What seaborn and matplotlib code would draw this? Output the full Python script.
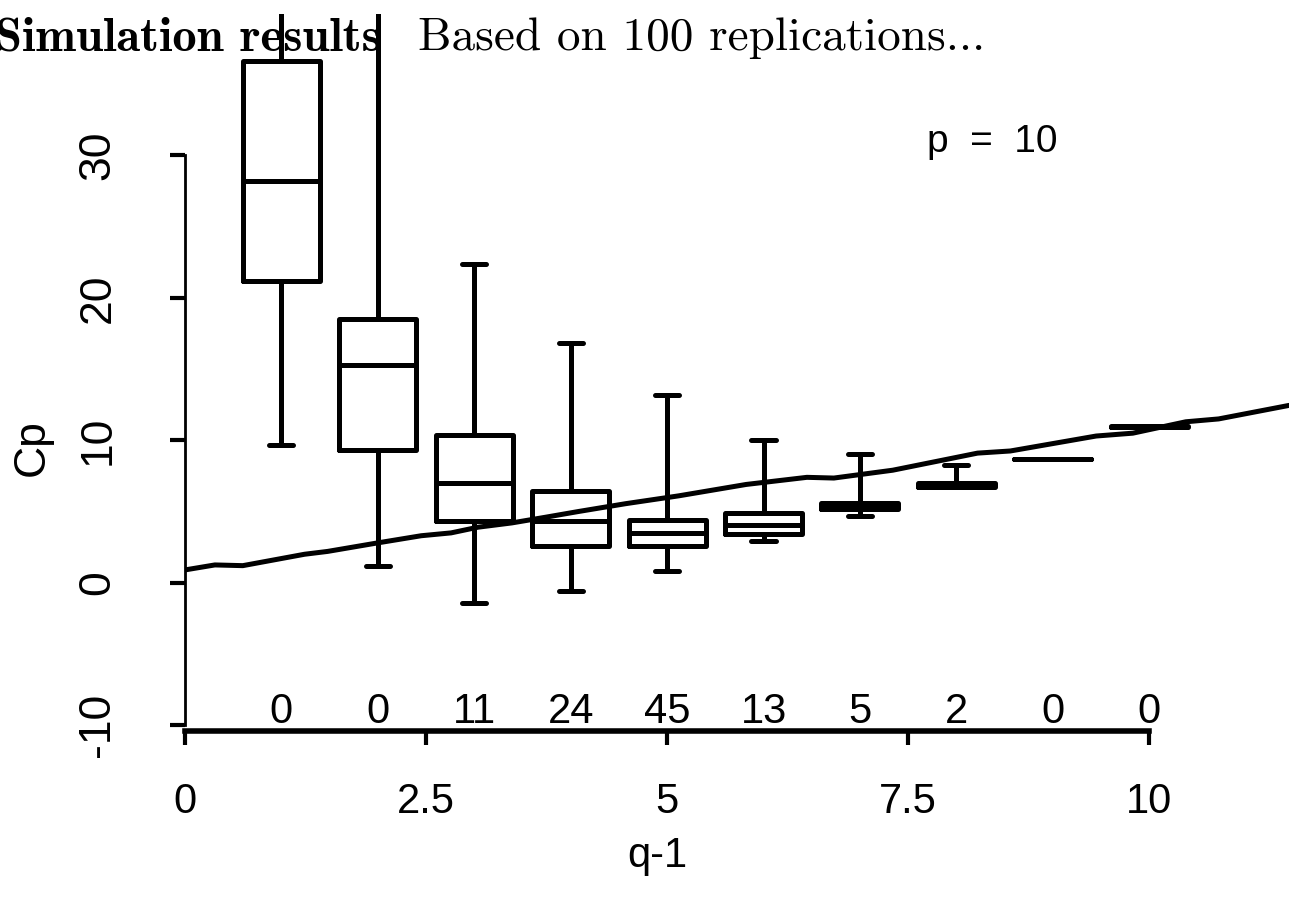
import numpy as np
import pandas as pd
import seaborn as sns
import matplotlib.pyplot as plt

# five-number summaries: (lower whisker, q1, median, q3, upper whisker)
q_vals = [1, 2, 3, 4, 5, 6, 7, 8, 9, 10]
lo_whisk = [9.7, 1.2, -1.4, -0.6, 0.85, 2.95, 4.72, 6.7, 8.7, 10.9]
q1 = [21.2, 9.3, 4.3, 2.6, 2.55, 3.4, 5.15, 6.75, 8.7, 10.9]
med = [28.2, 15.3, 7.0, 4.3, 3.5, 4.05, 5.4, 6.9, 8.7, 10.95]
q3 = [36.6, 18.5, 10.4, 6.45, 4.4, 4.9, 5.6, 7.0, 8.7, 11.0]
hi_whisk = [48.0, 45.0, 22.4, 16.8, 13.2, 10.0, 9.05, 8.3, 8.7, 11.0]

# times each model was chosen out of 100 replications
counts = [0, 0, 11, 24, 45, 13, 5, 2, 0, 0]

# the jagged reference line
line_x = [0, 0.31, 0.6, 1.24, 1.48, 2.0, 2.45, 2.76, 3.04, 3.39, 3.74, 4.08,
          4.57, 5.12, 5.82, 6.45, 6.73, 7.34, 8.22, 8.56, 9.45, 9.83, 10.38,
          10.72, 11.45]
line_y = [0.9, 1.25, 1.2, 2.0, 2.2, 2.8, 3.3, 3.5, 3.9, 4.2, 4.6, 5.0,
          5.55, 6.1, 6.9, 7.4, 7.35, 7.9, 9.1, 9.25, 10.3, 10.5, 11.3,
          11.5, 12.45]

# long table: 5 points per box -> quartiles land exactly on the summary values
rows = []
for i, q in enumerate(q_vals):
    for v in (lo_whisk[i], q1[i], med[i], q3[i], hi_whisk[i]):
        rows.append({"q": q, "cp": v})
df = pd.DataFrame(rows)
line_df = pd.DataFrame({"x": line_x, "y": line_y})

sns.set_style("white")
plt.rcParams["font.family"] = ["Liberation Sans", "DejaVu Sans"]
plt.rcParams["text.color"] = "black"
plt.rcParams["axes.labelcolor"] = "black"
plt.rcParams["xtick.color"] = "black"
plt.rcParams["ytick.color"] = "black"

fig = plt.figure(figsize=(12.89, 8.99), dpi=100)
ax = fig.add_axes([0.1435, 0.187, 0.8565, 0.797])

lw = 3.6
sns.boxplot(data=df, x="q", y="cp", native_scale=True, whis=(0, 100),
            fill=False, color="black", linecolor="black", linewidth=lw,
            width=0.8, capwidths=0.25, showfliers=False, ax=ax)
sns.lineplot(data=line_df, x="x", y="y", color="black", linewidth=lw, ax=ax)

ax.set_xlim(0, 11.45)
ax.set_ylim(-10.4, 39.9)

for i, q in enumerate(q_vals):
    ax.text(q, -9.85, str(counts[i]), ha="center", va="baseline", fontsize=30)
ax.text(8.37, 30.23, "p  =  10", ha="center", va="baseline", fontsize=28)

ax.set_xticks([0, 2.5, 5, 7.5, 10])
ax.set_xticklabels(["0", "2.5", "5", "7.5", "10"])
ax.set_yticks([-10, 0, 10, 20, 30])
ax.set_yticklabels(["-10", "0", "10", "20", "30"], rotation=90, va="center")
ax.tick_params(axis="x", direction="out", length=10, width=3, pad=27,
               labelsize=30, bottom=True)
ax.tick_params(axis="y", direction="out", length=11, width=3, pad=37,
               labelsize=32, left=True)

for s in ["top", "right"]:
    ax.spines[s].set_visible(False)
ax.spines["left"].set_bounds(-10, 30)
ax.spines["bottom"].set_bounds(0, 10)
ax.spines["left"].set_linewidth(2)
ax.spines["bottom"].set_linewidth(4)
ax.spines["left"].set_color("black")
ax.spines["bottom"].set_color("black")

ax.set_xlabel("q-1", fontsize=30, va="baseline")
ax.xaxis.set_label_coords(0.428, -0.19)
ax.set_ylabel("Cp", fontsize=32, va="center")
ax.yaxis.set_label_coords(-0.1386, 0.396)

fig.text(-0.004, 0.944, "Simulation results", fontfamily="cmb10",
         fontsize=35, va="baseline", ha="left")
fig.text(0.324, 0.944, "Based on 100 replications...", fontfamily="cmr10",
         fontsize=34, va="baseline", ha="left")

fig.savefig("out.png", dpi=100)
